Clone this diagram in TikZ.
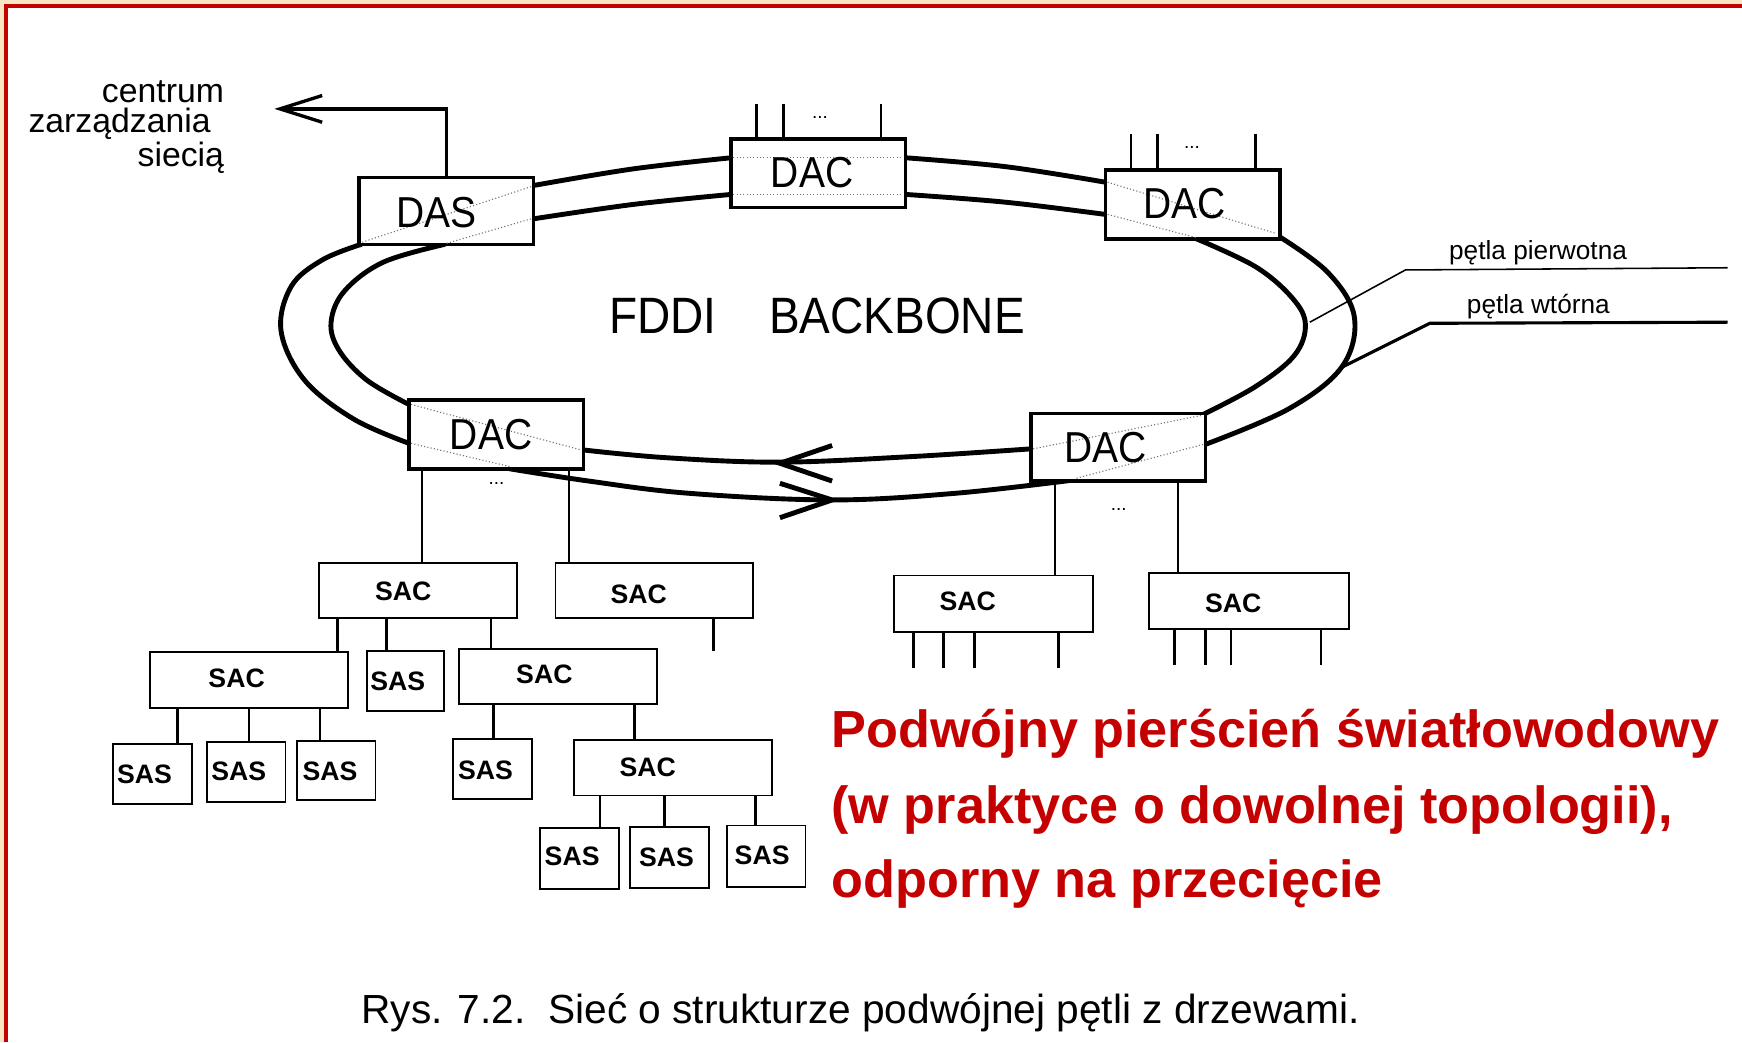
\documentclass[tikz,border=0pt]{standalone}
\usepackage{fontspec}
\setmainfont{Liberation Sans}
\newfontfamily\tallfont[FakeStretch=0.9]{Liberation Sans}
\usetikzlibrary{arrows.meta,fit}
\definecolor{redc}{HTML}{C40000}
\definecolor{beigec}{HTML}{F7E6C4}
\begin{document}
\begin{tikzpicture}[x=0.5pt,y=-0.5pt,
  bigbox/.style={draw, line width=1.5pt, fill=white, inner sep=0pt},
  smallbox/.style={draw, line width=0.85pt, fill=white, inner sep=0pt},
  ring/.style={line width=2.2pt, line cap=round},
  dotl/.style={densely dotted, line width=0.5pt, black!55},
  conn/.style={line width=0.9pt},
  stub/.style={line width=1.2pt},
  bigtxt/.style={font=\tallfont\fontsize{19.5}{20}\selectfont, inner sep=0pt},
  smalltxt/.style={font=\bfseries\fontsize{12}{13}\selectfont, inner sep=0pt},
  dotstxt/.style={font=\fontsize{8.5}{9}\selectfont, inner sep=0pt},
  lbltxt/.style={font=\fontsize{15.2}{13.6}\selectfont, inner sep=0pt},
  looptxt/.style={font=\fontsize{11.8}{13}\selectfont, inner sep=0pt},
  redtxt/.style={font=\bfseries\fontsize{23.5}{26}\selectfont, text=redc, inner sep=0pt},
]
\useasboundingbox (0,0) rectangle (1568,938);
\fill[white] (0,0) rectangle (1568,938);
\fill[beigec] (0,0) rectangle (1568,3.6);
\fill[beigec] (0,0) rectangle (3.6,938);
\fill[redc] (3.6,3.6) rectangle (1568,7.2);
\fill[redc] (3.6,3.6) rectangle (7.2,938);

% ---- ring (outer and inner loop) ----
\draw[ring] plot[smooth, tension=0.6] coordinates {(480,167) (570,152) (658,142)};
\draw[ring] plot[smooth, tension=0.6] coordinates {(480,197) (570,184) (658,175)};
\draw[ring] plot[smooth, tension=0.6] coordinates {(815,142) (905,150) (995,164)};
\draw[ring] plot[smooth, tension=0.6] coordinates {(815,175) (905,182) (995,193)};
\draw[ring] plot[smooth, tension=0.6] coordinates {(1150,212) (1195,245) (1219,285) (1208,330) (1160,368) (1085,400)};
\draw[ring] plot[smooth, tension=0.6] coordinates {(1077,215) (1130,240) (1163,268) (1175,292) (1165,320) (1130,348) (1083,373)};
\draw[ring] plot[smooth, tension=0.6] coordinates {(967,432) (860,444) (749,450) (620,444) (530,433) (459,422)};
\draw[ring] plot[smooth, tension=0.6] coordinates {(928,404) (820,411) (702,416) (600,412) (525,405)};
\draw[ring] plot[smooth, tension=0.6] coordinates {(368,399) (318,377) (274,342) (253,298) (262,258) (290,234) (325,220)};
\draw[ring] plot[smooth, tension=0.6] coordinates {(368,364) (330,342) (305,315) (298,290) (310,262) (345,236) (400,220)};
% direction chevrons
\draw[ring, line cap=butt] (749,401) -- (702,417) -- (749,433);
\draw[ring, line cap=butt] (702,435) -- (749,450) -- (702,466);

% ---- backbone boxes ----
\node[bigbox, fit={(323,160) (480,220)}] (das) {};
\node[bigbox, fit={(658,125) (815,187)}] (dact) {};
\node[bigbox, fit={(995,153) (1152,215)}] (dacr) {};
\node[bigbox, fit={(368,360) (525,422)}] (dacbl) {};
\node[bigbox, fit={(928,372) (1085,433)}] (dacbr) {};

% dotted loop paths through the boxes
\draw[dotl] (326,218) -- (478,168);
\draw[dotl] (402,219) -- (478,197);
\draw[dotl] (660,142) -- (813,142);
\draw[dotl] (660,175) -- (813,175);
\draw[dotl] (997,164) -- (1148,210);
\draw[dotl] (997,193) -- (1077,214);
\draw[dotl] (1083,400) -- (967,431);
\draw[dotl] (1081,374) -- (930,404);
\draw[dotl] (370,399) -- (459,420);
\draw[dotl] (370,364) -- (523,405);

\node[bigtxt] (dast) at (393,191) {DAS};
\node[bigtxt] (dactt) at (731,155) {DAC};
\node[bigtxt] (dacrt) at (1066,183) {DAC};
\node[bigtxt] (dacblt) at (442,391) {DAC};
\node[bigtxt] (dacbrt) at (995,403) {DAC};

\node[font=\tallfont\fontsize{23}{25}\selectfont, anchor=base west, inner sep=0pt] (fddi) at (548,300) {FDDI};
\node[font=\tallfont\fontsize{23}{25}\selectfont, anchor=base west, inner sep=0pt] (bb) at (692,300) {BACKBONE};

% ---- management link ----
\coordinate (mgmt) at (247,98);
\draw[line width=1.5pt, -{Straight Barb[length=19pt, width=12pt, line width=1.5pt]}] (das.north -| 402,0) |- (mgmt);
\node[lbltxt, align=right, anchor=north east] (lbl) at (202,72) {centrum\\zarządzania\rule{6pt}{0pt}\\siecią};

% ---- stubs on top DACs ----
\foreach \x in {681,705,793} \draw[stub] (\x,0 |- dact.north) -- ++(0,-30);
\foreach \x in {1018,1042,1130} \draw[stub] (\x,0 |- dacr.north) -- ++(0,-31);
\node[dotstxt] (d1) at (738,106) {...};
\node[dotstxt] (d2) at (1073,133) {...};
\node[dotstxt] (d3) at (447,435) {...};
\node[dotstxt] (d4) at (1007,459) {...};

% ---- loop labels ----
\node[looptxt, anchor=base west] (pp) at (1304,234) {pętla pierwotna};
\node[looptxt, anchor=base west] (pw) at (1320,282) {pętla wtórna};
\coordinate (ppend) at (1555,241);
\coordinate (pwend) at (1555,290);
\draw[line width=0.7pt] (1179,290) -- (1265,243) -- (ppend);
\draw[line width=1.4pt] (1207,331) -- (1287,291) -- (pwend);

% ---- tree boxes ----
\node[smallbox, fit={(287,507) (465,556)}] (sac1) {};
\node[smallbox, fit={(500,507) (678,556)}] (sac2) {};
\node[smallbox, fit={(805,518) (984,569)}] (sac3) {};
\node[smallbox, fit={(1034,516) (1214,566)}] (sac4) {};
\node[smallbox, fit={(135,587) (313,637)}] (sac5) {};
\node[smallbox, fit={(330,586) (400,640)}] (sasa) {};
\node[smallbox, fit={(413,584) (591,634)}] (sac6) {};
\node[smallbox, fit={(102,670) (173,724)}] (sas1) {};
\node[smallbox, fit={(186,668) (257,722)}] (sas2) {};
\node[smallbox, fit={(267,667) (338,720)}] (sas3) {};
\node[smallbox, fit={(408,665) (479,719)}] (sas4) {};
\node[smallbox, fit={(517,666) (695,716)}] (sac7) {};
\node[smallbox, fit={(486,745) (557,800)}] (sas5) {};
\node[smallbox, fit={(567,744) (638,799)}] (sas6) {};
\node[smallbox, fit={(654,743) (725,798)}] (sas7) {};

\node[smalltxt] (t1) at (363,532) {SAC};
\node[smalltxt] (t2) at (575,535) {SAC};
\node[smalltxt] (t3) at (871,541) {SAC};
\node[smalltxt] (t4) at (1110,543) {SAC};
\node[smalltxt] (t5) at (213,611) {SAC};
\node[smalltxt] (ta) at (358,613) {SAS};
\node[smalltxt] (t6) at (490,607) {SAC};
\node[smalltxt] (s1) at (130,697) {SAS};
\node[smalltxt] (s2) at (215,694) {SAS};
\node[smalltxt] (s3) at (297,694) {SAS};
\node[smalltxt] (s4) at (437,693) {SAS};
\node[smalltxt] (t7) at (583,691) {SAC};
\node[smalltxt] (s5) at (515,771) {SAS};
\node[smalltxt] (s6) at (600,772) {SAS};
\node[smalltxt] (s7) at (686,770) {SAS};

% ---- connectors ----
\draw[conn] (380,0 |- dacbl.south) -- (380,0 |- sac1.north);
\draw[conn] (512,0 |- dacbl.south) -- (512,0 |- sac2.north);
\draw[conn] (950,0 |- dacbr.south) -- (950,0 |- sac3.north);
\draw[conn] (1060,0 |- dacbr.south) -- (1060,0 |- sac4.north);
\draw[stub] (642,0 |- sac2.south) -- ++(0,29);
\foreach \x in {822,849,877,953} \draw[stub] (\x,0 |- sac3.south) -- ++(0,31);
\foreach \x in {1057,1085,1108,1189} \draw[stub] (\x,0 |- sac4.south) -- ++(0,32);
\draw[stub] (304,0 |- sac1.south) -- (304,0 |- sac5.north);
\draw[stub] (348,0 |- sac1.south) -- (348,0 |- sasa.north);
\draw[stub] (442,0 |- sac1.south) -- (442,0 |- sac6.north);
\draw[stub] (160,0 |- sac5.south) -- (160,0 |- sas1.north);
\draw[stub] (224,0 |- sac5.south) -- (224,0 |- sas2.north);
\draw[stub] (288,0 |- sac5.south) -- (288,0 |- sas3.north);
\draw[stub] (444,0 |- sac6.south) -- (444,0 |- sas4.north);
\draw[stub] (571,0 |- sac6.south) -- (571,0 |- sac7.north);
\draw[stub] (540,0 |- sac7.south) -- (540,0 |- sas5.north);
\draw[stub] (598,0 |- sac7.south) -- (598,0 |- sas6.north);
\draw[stub] (680,0 |- sac7.south) -- (680,0 |- sas7.north);

% ---- red annotation ----
\node[redtxt, anchor=base west] (r1) at (748,673) {Podwójny pierścień światłowodowy};
\node[redtxt, anchor=base west] (r2) at (748,741) {(w praktyce o dowolnej topologii),};
\node[redtxt, anchor=base west] (r3) at (748,808) {odporny na przecięcie};

% ---- caption ----
\node[font=\fontsize{18.3}{20}\selectfont, anchor=base west, inner sep=0pt] (cap) at (325,921) {Rys. 7.2.\ \ Sieć o strukturze podwójnej pętli z drzewami.};
\end{tikzpicture}
\end{document}
